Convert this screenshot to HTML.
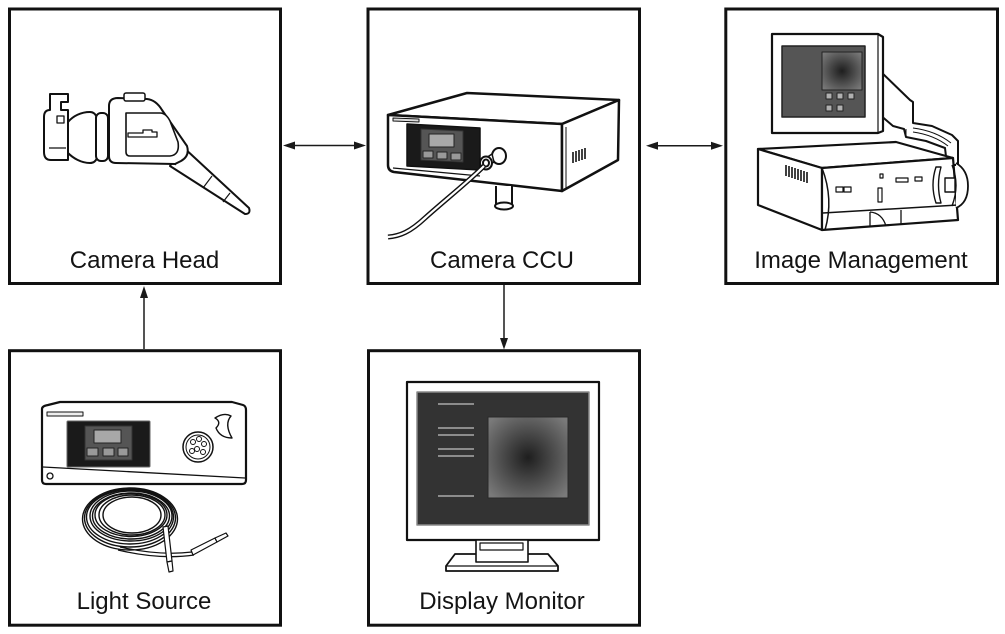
<!DOCTYPE html>
<html>
<head>
<meta charset="utf-8">
<style>
html,body{margin:0;padding:0;background:#fff;}
svg{display:block;}
text{font-family:"Liberation Sans",Arial,sans-serif;font-size:24px;fill:#141414;}
</style>
</head>
<body>
<svg width="1005" height="634" viewBox="0 0 1005 634" xmlns="http://www.w3.org/2000/svg">
<defs>
  <radialGradient id="rg" cx="50%" cy="50%" r="65%">
    <stop offset="0" stop-color="#1e1e1e"/>
    <stop offset="1" stop-color="#7a7a7a"/>
  </radialGradient>
</defs>
<rect width="1005" height="634" fill="#fff"/>

<!-- Boxes -->
<g fill="none" stroke="#111" stroke-width="3">
  <rect x="9.5" y="9" width="271" height="274.5"/>
  <rect x="368" y="9" width="271.5" height="274.5"/>
  <rect x="725.8" y="9" width="271.7" height="274.5"/>
  <rect x="9.5" y="350.7" width="271" height="274.5"/>
  <rect x="368.5" y="350.7" width="271" height="274.5"/>
</g>

<!-- Arrows -->
<g stroke="#1a1a1a" stroke-width="1.5" fill="none">
  <line x1="290" y1="145.5" x2="359" y2="145.5"/>
  <line x1="653" y1="145.7" x2="716" y2="145.7"/>
  <line x1="144" y1="293" x2="144" y2="349"/>
  <line x1="504" y1="285" x2="504" y2="342"/>
</g>
<g fill="#1a1a1a">
  <polygon points="283,145.5 295,141.5 295,149.5"/>
  <polygon points="366,145.5 354,141.5 354,149.5"/>
  <polygon points="646,145.7 658,141.7 658,149.7"/>
  <polygon points="723,145.7 711,141.7 711,149.7"/>
  <polygon points="144,286 140,298 148,298"/>
  <polygon points="504,349.5 500,338 508,338"/>
</g>

<!-- Labels -->
<text x="144.5" y="268" text-anchor="middle">Camera Head</text>
<text x="502" y="268" text-anchor="middle">Camera CCU</text>
<text x="861" y="268" text-anchor="middle">Image Management</text>
<text x="144" y="609" text-anchor="middle">Light Source</text>
<text x="502" y="609" text-anchor="middle">Display Monitor</text>

<!-- Camera Head illustration -->
<g stroke="#111" stroke-width="2" fill="#fff" stroke-linejoin="round">
  <!-- cable / handle -->
  <path d="M182,146 L249,208 Q251,214 245,214 L170,166 Z"/>
  <line x1="187" y1="151" x2="175" y2="165" stroke-width="1.2"/>
  <line x1="212" y1="176" x2="203" y2="188" stroke-width="1.2"/>
  <line x1="230" y1="193" x2="223" y2="202" stroke-width="1.2"/>
  <!-- coupler -->
  <path d="M50,94 L68,94 L68,102 L61,102 L61,110 L68,110 L68,160 L51,160 Q44,160 44,152 L44,117 Q44,110 50,110 Z"/>
  <rect x="57" y="116" width="7" height="7" stroke-width="1.3"/>
  <line x1="49" y1="148" x2="66" y2="148" stroke-width="1.2"/>
  <!-- cup -->
  <path d="M68,122 C73,116 81,112 90,112 C97,112 99,120 99,138 C99,157 97,163 90,163 C81,163 73,158 68,153 Z"/>
  <!-- ring -->
  <rect x="96" y="113" width="12" height="48" rx="5"/>
  <!-- body -->
  <path d="M109,106 Q109,98 118,98 L147,99 Q156,100 162,110 L187,146 Q190,156 181,161 L175,164 L116,163 Q109,163 109,156 Z"/>
  <!-- window -->
  <path d="M126,113 L160,113 Q166,113 170,121 L178,142 Q180,155 170,156 L130,156 Q126,156 126,152 Z" stroke-width="1.6"/>
  <path d="M128,133 L143,133 L143,130 L152,130 L152,132 L157,132 L157,137 L128,137 Z" stroke-width="1.3"/>
  <!-- top button -->
  <rect x="124" y="93" width="21" height="8" rx="2" stroke-width="1.5"/>
</g>

<!-- Camera CCU illustration -->
<g stroke="#111" stroke-width="2" fill="#fff" stroke-linejoin="round">
  <polygon points="388,115 467,93 619,100 562,124" stroke-width="2.5"/>
  <path d="M388,115 L562,124 L562,191 L394,172 Q388,171 388,165 Z" stroke-width="2.5"/>
  <polygon points="562,124 619,100 618,160 562,191" stroke-width="2.5"/>
  <line x1="566" y1="127" x2="566" y2="188" stroke-width="1"/>
  <line x1="393" y1="168" x2="480" y2="176" stroke-width="1.2"/>
  <polygon points="393,118 419,119 419,122 393,121" stroke-width="1" fill="#ddd"/>
  <polygon points="407,124 480,128 480,170 407,166" fill="#1a1a1a" stroke-width="1.5"/>
  <polygon points="421,129 463,131 463,162 421,160" fill="#555" stroke="#333" stroke-width="1"/>
  <rect x="429" y="134" width="25" height="13" fill="#a8a8a8" stroke="#222" stroke-width="1"/>
  <rect x="423" y="151" width="10" height="7" fill="#999" stroke="#222" stroke-width="1"/>
  <rect x="437" y="152" width="10" height="7" fill="#999" stroke="#222" stroke-width="1"/>
  <rect x="451" y="153" width="10" height="7" fill="#999" stroke="#222" stroke-width="1"/>
  <!-- vent -->
  <g stroke="#111" stroke-width="1.6">
    <line x1="573" y1="152" x2="573" y2="163"/>
    <line x1="576" y1="151" x2="576" y2="162"/>
    <line x1="579" y1="150" x2="579" y2="161"/>
    <line x1="582" y1="149" x2="582" y2="160"/>
    <line x1="585" y1="148" x2="585" y2="159"/>
  </g>
  <!-- foot -->
  <path d="M496,186 L496,205 L512,205 L512,186" />
  <ellipse cx="504" cy="206" rx="9" ry="3.5"/>
  <!-- connector -->
  <ellipse cx="499" cy="156" rx="7" ry="8"/>
  <path d="M492,154 L486,158 L486,167 L494,162 Z" stroke-width="1.5"/>
  <ellipse cx="486" cy="163" rx="6" ry="6.5"/>
  <ellipse cx="486" cy="163" rx="3" ry="3.5"/>
  <!-- cable -->
  <path d="M484,166 C468,182 445,200 425,218 C410,232 400,236 388,237" fill="none" stroke-width="5"/>
  <path d="M484,166 C468,182 445,200 425,218 C410,232 400,236 388,237" fill="none" stroke="#fff" stroke-width="2.2"/>
</g>

<!-- Image Management illustration -->
<g stroke="#111" stroke-width="2" fill="#fff" stroke-linejoin="round">
  <!-- arm -->
  <polygon points="879,70 910,100 913,102 913,123 932,126 952,135 958,141 958,165 947,165 945,148 926,141 906,137 904,129 893,126 879,114"/>
  <line x1="906" y1="129" x2="906" y2="137" stroke-width="1"/>
  <path d="M913,128 Q936,131 951,143" fill="none" stroke-width="1"/>
  <path d="M913,132 Q934,135 948,146" fill="none" stroke-width="1"/>
  <!-- CPU box -->
  <polygon points="758,149 896,142 953,158 822,168" stroke-width="2.2"/>
  <polygon points="758,149 822,168 822,230 758,205" stroke-width="2.2"/>
  <polygon points="822,168 953,158 958,220 822,230" stroke-width="2.2"/>
  <path d="M822,168 Q834,199 825,230" fill="none" stroke-width="1.5"/>
  <line x1="823" y1="213" x2="958" y2="205" stroke-width="1.5"/>
  <path d="M870,212 Q882,213 886,226" fill="none" stroke-width="1.3"/>
  <line x1="870" y1="212" x2="870" y2="227" stroke-width="1.3"/>
  <line x1="901" y1="210" x2="901" y2="225" stroke-width="1.3"/>
  <!-- vent -->
  <g stroke="#111" stroke-width="1.6">
    <line x1="786" y1="165" x2="786" y2="176"/>
    <line x1="789" y1="166" x2="789" y2="177"/>
    <line x1="792" y1="167" x2="792" y2="178"/>
    <line x1="795" y1="168" x2="795" y2="179"/>
    <line x1="798" y1="169" x2="798" y2="180"/>
    <line x1="801" y1="170" x2="801" y2="181"/>
    <line x1="804" y1="171" x2="804" y2="182"/>
    <line x1="807" y1="172" x2="807" y2="183"/>
  </g>
  <!-- front details -->
  <rect x="836" y="187" width="7" height="5" stroke-width="1.2"/>
  <rect x="844" y="187" width="7" height="5" stroke-width="1.2"/>
  <rect x="880" y="174" width="3" height="4" stroke-width="1.2"/>
  <rect x="878" y="188" width="4" height="14" stroke-width="1.2"/>
  <rect x="896" y="178" width="12" height="4" stroke-width="1.2"/>
  <rect x="915" y="177" width="7" height="4" stroke-width="1.2"/>
  <path d="M936,167 Q930,185 936,203 L941,203 Q936,185 941,167 Z" stroke-width="1.4"/>
  <path d="M956,163 Q968,170 968,186 Q968,203 956,208" stroke-width="1.8"/>
  <path d="M952,165 Q960,185 952,206" fill="none" stroke-width="1.4"/>
  <rect x="945" y="178" width="10" height="14" stroke-width="1.4"/>
  <!-- monitor -->
  <path d="M772,34 L878,34 L883,37 L883,131 L878,133 L772,133 Z" stroke-width="2.2"/>
  <line x1="878" y1="34" x2="878" y2="133" stroke-width="1.2"/>
  <rect x="782" y="46" width="83" height="71" fill="#555" stroke="#222" stroke-width="1.5"/>
  <rect x="822" y="52" width="40" height="38" fill="url(#rg)" stroke="#222" stroke-width="1"/>
  <g fill="#b0b0b0" stroke="#222" stroke-width="1">
    <rect x="826" y="93" width="6" height="6"/>
    <rect x="837" y="93" width="6" height="6"/>
    <rect x="848" y="93" width="6" height="6"/>
    <rect x="826" y="105" width="6" height="6"/>
    <rect x="837" y="105" width="6" height="6"/>
  </g>
</g>

<!-- Light Source illustration -->
<g stroke="#111" stroke-width="2" fill="#fff" stroke-linejoin="round">
  <path d="M42,409 Q42,406 48,405 L60,402 L232,402 L243,405 Q246,406 246,410 L246,480 Q246,484 242,484 L46,484 Q42,484 42,480 Z" stroke-width="2.2"/>
  <line x1="43" y1="467" x2="245" y2="478" stroke-width="1.3"/>
  <rect x="47" y="412" width="36" height="4" fill="#eee" stroke-width="1"/>
  <rect x="67" y="421" width="83" height="46" rx="1" fill="#1a1a1a" stroke="#666" stroke-width="1"/>
  <rect x="85" y="426" width="47" height="34" fill="#555" stroke="#333" stroke-width="1"/>
  <rect x="94" y="430" width="27" height="13" fill="#a8a8a8" stroke="#222" stroke-width="1"/>
  <rect x="87" y="448" width="11" height="8" fill="#999" stroke="#222" stroke-width="1"/>
  <rect x="103" y="448" width="11" height="8" fill="#999" stroke="#222" stroke-width="1"/>
  <rect x="118" y="448" width="10" height="8" fill="#999" stroke="#222" stroke-width="1"/>
  <circle cx="50" cy="476" r="3" stroke-width="1.3"/>
  <circle cx="198" cy="447" r="15" stroke-width="1.5"/>
  <circle cx="198" cy="447" r="12" stroke-width="1"/>
  <g stroke-width="1">
    <circle cx="193" cy="442" r="2.5"/>
    <circle cx="199" cy="439" r="2.5"/>
    <circle cx="204" cy="444" r="2.5"/>
    <circle cx="197" cy="449" r="2.5"/>
    <circle cx="203" cy="452" r="2.5"/>
    <circle cx="192" cy="451" r="2.5"/>
  </g>
  <path d="M215,418 Q224,412 231,416 Q224,424 232,438 Q220,438 216,428 Q222,422 215,418 Z" stroke-width="1.4"/>
  <!-- coil -->
  <g fill="none" stroke-width="1.4">
    <ellipse cx="130" cy="519" rx="47.5" ry="31"/>
    <ellipse cx="130" cy="518" rx="45.5" ry="29"/>
    <ellipse cx="130" cy="517" rx="43.5" ry="27"/>
    <ellipse cx="131" cy="516" rx="41" ry="25"/>
    <ellipse cx="131" cy="516" rx="38.5" ry="23"/>
    <ellipse cx="131" cy="515" rx="36" ry="21.5"/>
    <ellipse cx="132" cy="515" rx="33" ry="20"/>
    <ellipse cx="132" cy="515" rx="29" ry="18"/>
  </g>
  <path d="M120,547 Q160,556 192,552" fill="none" stroke-width="1.3"/>
  <path d="M118,550 Q160,560 194,555" fill="none" stroke-width="1.3"/>
  <!-- right connector -->
  <path d="M191,550 L215,538 L217,542 L193,555 Z" stroke-width="1.2"/>
  <path d="M215,538 L226,533 L228,536 L217,542 Z" stroke-width="1.2"/>
  <!-- down connector -->
  <path d="M163,527 L168,526 L172,561 L167,562 Z" stroke-width="1.2"/>
  <path d="M167,562 L172,561 L173,571 L169,572 Z" stroke-width="1.2"/>
</g>

<!-- Display Monitor illustration -->
<g stroke="#111" stroke-width="2" fill="#fff" stroke-linejoin="round">
  <rect x="407" y="382" width="192" height="158" stroke-width="2.2"/>
  <rect x="417" y="392" width="172" height="133" fill="#333" stroke="#8a8a8a" stroke-width="1.5"/>
  <rect x="488" y="417" width="80" height="81" fill="url(#rg)" stroke="#2a2a2a" stroke-width="1"/>
  <g stroke="#8c8c8c" stroke-width="2">
    <line x1="438" y1="404" x2="474" y2="404"/>
    <line x1="438" y1="428" x2="474" y2="428"/>
    <line x1="438" y1="435" x2="474" y2="435"/>
    <line x1="438" y1="449" x2="474" y2="449"/>
    <line x1="438" y1="456" x2="474" y2="456"/>
    <line x1="438" y1="496" x2="474" y2="496"/>
  </g>
  <!-- stand -->
  <path d="M455,554 L548,554 L558,566 L558,571 L446,571 L446,566 Z" stroke-width="1.8"/>
  <line x1="446" y1="566" x2="558" y2="566" stroke-width="1.3"/>
  <rect x="476" y="540" width="52" height="22" stroke-width="1.6"/>
  <rect x="480" y="543" width="43" height="7" stroke-width="1.2"/>
</g>
</svg>
</body>
</html>
